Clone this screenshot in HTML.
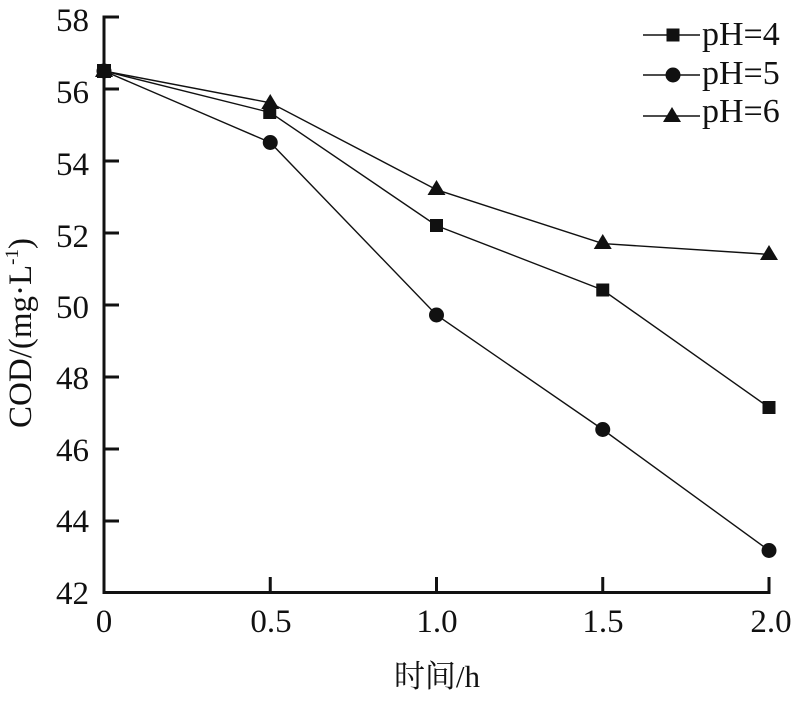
<!DOCTYPE html>
<html>
<head>
<meta charset="utf-8">
<style>
  html,body{margin:0;padding:0;background:#fff;}
  svg{display:block;}
  text{font-family:"Liberation Serif","Noto Serif CJK SC",serif;fill:#111;}
</style>
</head>
<body>
<svg width="805" height="710" viewBox="0 0 805 710" xmlns="http://www.w3.org/2000/svg">
  <!-- axes -->
  <g stroke="#111" stroke-width="3" fill="none">
    <line x1="104" y1="15.5" x2="104" y2="594"/>
    <line x1="102.5" y1="592.5" x2="770.5" y2="592.5"/>
    <!-- y ticks (inward) -->
    <line x1="104" y1="17" x2="119" y2="17"/>
    <line x1="104" y1="89" x2="119" y2="89"/>
    <line x1="104" y1="161" x2="119" y2="161"/>
    <line x1="104" y1="233" x2="119" y2="233"/>
    <line x1="104" y1="305" x2="119" y2="305"/>
    <line x1="104" y1="377" x2="119" y2="377"/>
    <line x1="104" y1="449" x2="119" y2="449"/>
    <line x1="104" y1="521" x2="119" y2="521"/>
    <!-- x ticks (inward) -->
    <line x1="270.25" y1="592.5" x2="270.25" y2="577"/>
    <line x1="436.5" y1="592.5" x2="436.5" y2="577"/>
    <line x1="602.75" y1="592.5" x2="602.75" y2="577"/>
    <line x1="769" y1="594" x2="769" y2="577"/>
  </g>

  <!-- y tick labels -->
  <g font-size="33" text-anchor="end">
    <text x="89" y="31">58</text>
    <text x="89" y="103">56</text>
    <text x="89" y="175">54</text>
    <text x="89" y="247">52</text>
    <text x="89" y="318">50</text>
    <text x="89" y="389">48</text>
    <text x="89" y="461">46</text>
    <text x="89" y="532">44</text>
    <text x="89" y="604">42</text>
  </g>

  <!-- x tick labels -->
  <g font-size="33" text-anchor="middle">
    <text x="104" y="632">0</text>
    <text x="271" y="632">0.5</text>
    <text x="437" y="632">1.0</text>
    <text x="603" y="632">1.5</text>
    <text x="771" y="632">2.0</text>
  </g>

  <!-- axis titles -->
  <text x="437" y="687" font-size="31" text-anchor="middle">时间/h</text>
  <text transform="translate(31,333) rotate(-90)" font-size="33" text-anchor="middle">COD/(mg·L<tspan font-size="19" dy="-13">-1</tspan><tspan dy="13">)</tspan></text>

  <!-- series lines -->
  <g stroke="#111" stroke-width="1.4" fill="none">
    <!-- pH=6 -->
    <polyline points="104,71 270.25,102.8 436.5,189.7 602.75,243.6 769,254.4"/>
    <!-- pH=4 -->
    <polyline points="104,71 270.25,112.5 436.5,225.6 602.75,290 769,407.5"/>
    <!-- pH=5 -->
    <polyline points="104,71 270.25,142.5 436.5,315 602.75,429.5 769,550.5"/>
  </g>

  <!-- markers -->
  <g fill="#111">
    <!-- pH=5 circles -->
    <circle cx="104" cy="71" r="7.5"/>
    <circle cx="270.25" cy="142.5" r="7.5"/>
    <circle cx="436.5" cy="315" r="7.5"/>
    <circle cx="602.75" cy="429.5" r="7.5"/>
    <circle cx="769" cy="550.5" r="7.5"/>
    <!-- pH=6 triangles -->
    <polygon points="104,61 95,77 113,77"/>
    <polygon points="270.25,94 261.25,109 279.25,109"/>
    <polygon points="436.5,180 427.5,195 445.5,195"/>
    <polygon points="602.75,234 593.75,249 611.75,249"/>
    <polygon points="769,245 760,260 778,260"/>
    <!-- pH=4 squares -->
    <rect x="97" y="64" width="14" height="14"/>
    <rect x="263.25" y="106" width="13" height="13"/>
    <rect x="430" y="219" width="13" height="13"/>
    <rect x="596.25" y="283.5" width="13" height="13"/>
    <rect x="762.5" y="401" width="13" height="13"/>
  </g>

  <!-- legend -->
  <g stroke="#111" stroke-width="1.4">
    <line x1="643" y1="35" x2="700" y2="35"/>
    <line x1="643" y1="75" x2="700" y2="75"/>
    <line x1="643" y1="116" x2="700" y2="116"/>
  </g>
  <g fill="#111">
    <rect x="666.5" y="28.5" width="13" height="13"/>
    <circle cx="673" cy="75" r="7.5"/>
    <polygon points="672,107 663,122 681,122"/>
  </g>
  <g font-size="34">
    <text x="702" y="45">pH=4</text>
    <text x="702" y="84">pH=5</text>
    <text x="702" y="122">pH=6</text>
  </g>
</svg>
</body>
</html>
